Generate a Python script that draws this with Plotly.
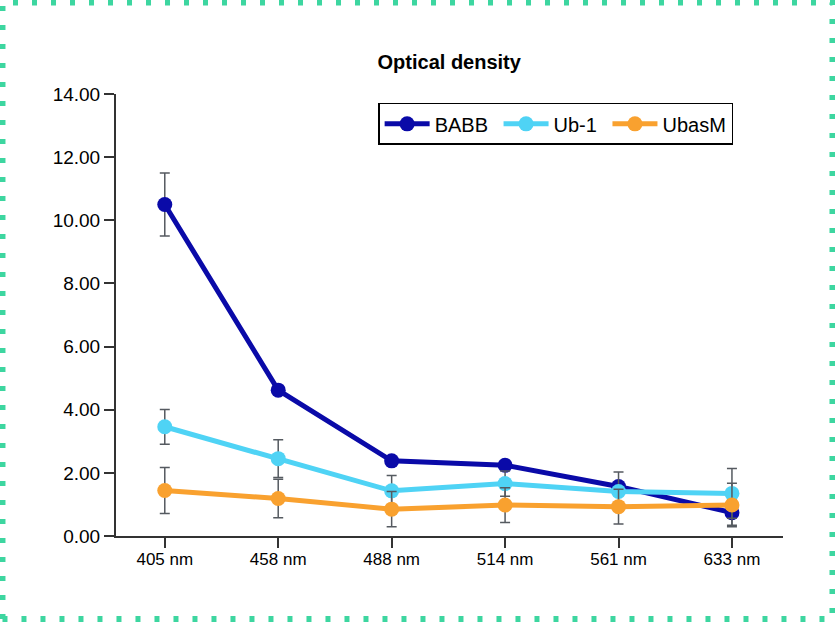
import plotly.graph_objects as go

## Datos

wavelengths = ["405 nm", "458 nm", "488 nm", "514 nm", "561 nm", "633 nm"]

babb = [10.5, 4.62, 2.38, 2.24, 1.57, 0.74]
babb_err = [1.0, 0.1, 0.1, 0.1, 0.1, 0.4]

ub1 = [3.46, 2.45, 1.43, 1.66, 1.41, 1.35]
ub1_err = [0.55, 0.6, 0.49, 0.4, 0.62, 0.79]

ubasm = [1.44, 1.19, 0.85, 0.98, 0.93, 0.98]
ubasm_err = [0.73, 0.61, 0.56, 0.55, 0.55, 0.69]

# el espacio no separable da algo más de aire entre entradas de la leyenda
series = [("BABB\u00a0", babb, babb_err, "#0a0aa8"),
          ("Ub-1\u00a0", ub1, ub1_err, "#4fd3f5"),
          ("UbasM", ubasm, ubasm_err, "#f9a12f")]

## Gráfico

fig = go.Figure()

for name, values, errors, color in series:
    fig.add_trace(go.Scatter(x = wavelengths, y = values, name = name,
                             mode = "lines+markers",
                             line = dict(color = color, width = 5),
                             marker = dict(color = color, size = 15),
                             error_y = dict(type = "data", array = errors, visible = True,
                                            color = "#555a60", thickness = 1.5, width = 5)))

fig.update_xaxes(range = [-0.43, 5.45], showline = True, linecolor = "#333333", linewidth = 2,
                 ticks = "outside", ticklen = 10, tickwidth = 2, tickcolor = "#333333",
                 ticklabelstandoff = -3,
                 showgrid = False, zeroline = False,
                 tickfont = dict(size = 17, color = "black"))

fig.update_yaxes(range = [0, 14], dtick = 2, tickformat = ".2f", showline = True,
                 linecolor = "#333333", linewidth = 2,
                 ticks = "outside", ticklen = 10, tickwidth = 2, tickcolor = "#333333",
                 showgrid = False, zeroline = False,
                 tickfont = dict(size = 19, color = "black"))

# Borde punteado alrededor de la figura
fig.add_shape(type = "rect", xref = "paper", yref = "paper",
              x0 = -0.1702, x1 = 1.0742, y0 = -0.1878, y1 = 1.207,
              line = dict(color = "#3dd6a0", width = 6, dash = "5px,14px"))

fig.update_layout(width = 835, height = 622,
                  margin = dict(l = 116, r = 52, t = 94, b = 86),
                  plot_bgcolor = "white", paper_bgcolor = "white",
                  font = dict(family = "Liberation Sans, Arial, sans-serif", color = "black"),
                  title = dict(text = "<b>Optical density</b>", x = 0.538, xanchor = "center",
                               y = 0.9, yanchor = "middle", font = dict(size = 20)),
                  legend = dict(orientation = "h", x = 0.393, y = 0.98, xanchor = "left", yanchor = "top",
                                bordercolor = "black", borderwidth = 1.5, bgcolor = "white",
                                itemwidth = 45, font = dict(size = 20)),
                  showlegend = True)

# Quito el margen del body para que la figura empiece en (0, 0)
fig.write_html("out.html", config = {"displayModeBar": False},
               post_script = "document.body.style.margin = '0';")
